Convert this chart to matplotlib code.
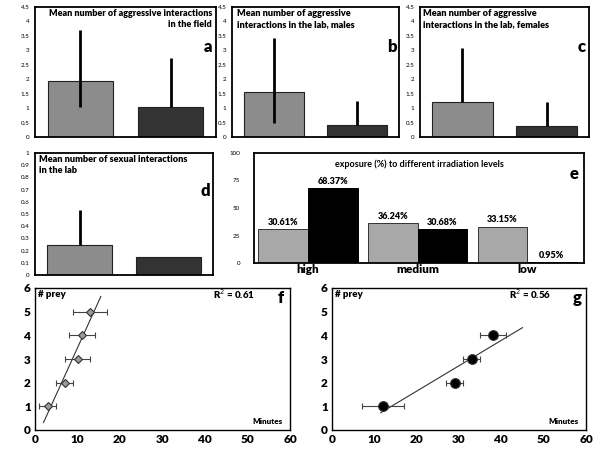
import numpy as np
import matplotlib
matplotlib.use('Agg')
import matplotlib.pyplot as plt

plt.rcParams['font.family'] = ['Lato', 'DejaVu Sans']

# Bar panels a-d: mean, lower and upper end of the error line
field_means = [1.95, 1.05]
field_lo = [1.05, 1.05]
field_hi = [3.7, 2.72]

males_means = [1.55, 0.4]
males_lo = [0.47, 0.4]
males_hi = [3.42, 1.25]

females_means = [1.2, 0.38]
females_lo = [1.2, 0.38]
females_hi = [3.07, 1.22]

sexual_means = [0.25, 0.15]
sexual_lo = [0.25, 0.15]
sexual_hi = [0.53, 0.15]

# Panel e
levels = ['high', 'medium', 'low']
exposure_gray = [30.61, 36.24, 33.15]
exposure_black = [68.37, 30.68, 0.95]

# Panels f, g
f_minutes = [3, 7, 10, 11, 13]
f_prey = [1, 2, 3, 4, 5]
f_xerr = [2, 2, 3, 3, 4]
f_fit_range = [2, 15.5]

g_minutes = [12, 29, 33, 38]
g_prey = [1, 2, 3, 4]
g_xerr = [5, 2, 2, 3]
g_fit_range = [11.5, 45]

W, H = 600, 450
fig = plt.figure(figsize=(6, 4.5), dpi=100)
BOLD = 'heavy'


def px_axes(left, top, right, bottom):
    return fig.add_axes([left / W, 1 - bottom / H, (right - left) / W, (bottom - top) / H])


def bar_panel(ax, means, lo, hi, ymax, yticks, ticklabels, letter):
    ax.bar([0, 1], means, width=0.72, color=['#8c8c8c', '#333333'],
           edgecolor='#222222', linewidth=0.8, zorder=2)
    for x, l, h in zip([0, 1], lo, hi):
        if h > l:
            ax.plot([x, x], [l, h], color='black', lw=2, zorder=3, solid_capstyle='butt')
    ax.set_xlim(-0.5, 1.5)
    ax.set_ylim(0, ymax)
    ax.set_xticks([])
    ax.set_yticks(yticks)
    ax.set_yticklabels(ticklabels)
    ax.tick_params(axis='y', length=0, labelsize=4.5, pad=4)
    for s in ax.spines.values():
        s.set_linewidth(1.3)
    ax.text(0.955, 0.69, letter, transform=ax.transAxes, fontsize=12,
            fontweight=BOLD, ha='center', va='center')


agg_ticks = np.arange(0, 4.51, 0.5)
agg_labels = ['0', '0.5', '1', '1.5', '2', '2.5', '3', '3.5', '4', '4.5']

ax_a = px_axes(35, 7, 216, 137)
bar_panel(ax_a, field_means, field_lo, field_hi, 4.5, agg_ticks, agg_labels, 'a')

ax_b = px_axes(232, 7, 399, 137)
bar_panel(ax_b, males_means, males_lo, males_hi, 4.5, agg_ticks, agg_labels, 'b')

ax_c = px_axes(420, 7, 589, 137)
bar_panel(ax_c, females_means, females_lo, females_hi, 4.5, agg_ticks, agg_labels, 'c')

ax_d = px_axes(35, 153, 213, 275)
bar_panel(ax_d, sexual_means, sexual_lo, sexual_hi, 1.0, np.arange(0, 1.01, 0.1),
          ['0', '0.1', '0.2', '0.3', '0.4', '0.5', '0.6', '0.7', '0.8', '0.9', '1'], 'd')

# panel titles, positions in pixels from the top-left corner
fig.text(212 / W, 1 - 9 / H, 'Mean number of aggressive interactions\nin the field',
         fontsize=6.5, fontweight=BOLD, ha='right', va='top', multialignment='right',
         linespacing=1.3)
for x, y, txt in [(237, 9, 'Mean number of aggressive\ninteractions in the lab, males'),
                  (423, 9, 'Mean number of aggressive\ninteractions in the lab, females'),
                  (39, 155, 'Mean number of sexual interactions\nin the lab')]:
    fig.text(x / W, 1 - y / H, txt, fontsize=6.6, fontweight=BOLD, ha='left', va='top',
             linespacing=1.3)

# Panel e
ax_e = px_axes(254, 153, 584, 263)
xs = np.arange(len(levels))
bw = 0.452
ax_e.bar(xs - bw / 2, exposure_gray, width=bw, color='#a8a8a8', edgecolor='#333333', linewidth=0.7)
ax_e.bar(xs + bw / 2, exposure_black, width=bw, color='black', edgecolor='black', linewidth=0.7)
for x, v in zip(xs - bw / 2, exposure_gray):
    ax_e.text(x, v + 2, f'{v:.2f}%', ha='center', va='bottom', fontsize=6.5, fontweight=BOLD)
for x, v in zip(xs + bw / 2, exposure_black):
    ax_e.text(x, v + 2, f'{v:.2f}%', ha='center', va='bottom', fontsize=6.5, fontweight=BOLD)
ax_e.set_xlim(-0.493, 2.52)
ax_e.set_ylim(0, 100)
ax_e.set_yticks([0, 25, 50, 75, 100])
ax_e.tick_params(axis='y', length=0, labelsize=4.5, pad=10)
ax_e.set_xticks(xs)
ax_e.set_xticklabels(levels, fontsize=8.5, fontweight=BOLD)
ax_e.tick_params(axis='x', length=0, pad=1)
for s in ax_e.spines.values():
    s.set_linewidth(1.3)
ax_e.text(0.5, 0.9, 'exposure (%) to different irradiation levels', transform=ax_e.transAxes,
          ha='center', va='center', fontsize=6.5, fontweight='bold')
ax_e.text(0.97, 0.81, 'e', transform=ax_e.transAxes, ha='center', va='center',
          fontsize=12, fontweight=BOLD)


def scatter_panel(ax, xv, yv, xerr, fit_range, r2, letter, marker, mcolor, msize):
    ax.errorbar(xv, yv, xerr=xerr, fmt='none', ecolor='#444444', elinewidth=0.8,
                capsize=2, capthick=0.8, zorder=2)
    ax.plot(xv, yv, linestyle='none', marker=marker, markersize=msize,
            markerfacecolor=mcolor, markeredgecolor='#333333', markeredgewidth=0.8, zorder=3)
    slope, icpt = np.polyfit(xv, yv, 1)
    fx = np.array(fit_range)
    ax.plot(fx, slope * fx + icpt, color='#333333', lw=0.8, zorder=1)
    ax.set_xlim(0, 60)
    ax.set_ylim(0, 6)
    ax.set_xticks(range(0, 61, 10))
    ax.set_yticks(range(0, 7))
    ax.tick_params(length=0, labelsize=8.5, pad=3)
    for lab in ax.get_xticklabels() + ax.get_yticklabels():
        lab.set_fontweight(BOLD)
    for s in ax.spines.values():
        s.set_linewidth(1.0)
    ax.text(0.01, 0.955, '# prey', transform=ax.transAxes, ha='left', va='center',
            fontsize=7, fontweight=BOLD)
    ax.text(0.78, 0.955, r'R$^2$ = ' + r2, transform=ax.transAxes, ha='center', va='center',
            fontsize=7, fontweight=BOLD)
    ax.text(0.97, 0.06, 'Minutes', transform=ax.transAxes, ha='right', va='center',
            fontsize=5.8, fontweight=BOLD)
    ax.text(0.965, 0.93, letter, transform=ax.transAxes, ha='center', va='center',
            fontsize=12, fontweight=BOLD)


ax_f = px_axes(35, 288, 290, 430)
scatter_panel(ax_f, f_minutes, f_prey, f_xerr, f_fit_range, '0.61', 'f', 'D', '#999999', 4)

ax_g = px_axes(332, 288, 586, 430)
scatter_panel(ax_g, g_minutes, g_prey, g_xerr, g_fit_range, '0.56', 'g', 'o', 'black', 7)

fig.savefig('out.png', dpi=100)
